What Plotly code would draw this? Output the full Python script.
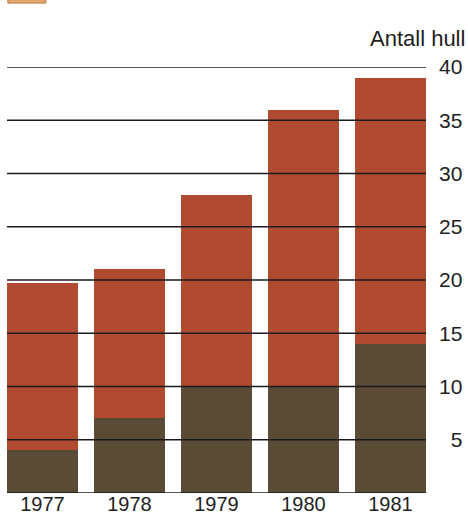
import plotly.graph_objects as go

years = ["1977", "1978", "1979", "1980", "1981"]
totals = [19.7, 21, 28, 36, 39]
lower = [4, 7, 10, 10, 14]
upper = [t - l for t, l in zip(totals, lower)]
ytick_vals = [5, 10, 15, 20, 25, 30, 35, 40]
ytick_text = ["\u20075", "10", "15", "20", "25", "30", "35", "40"]

x = list(range(len(years)))
DARK = "#5a4b36"
RED = "#b04b31"
FONT = "Liberation Sans, Arial, sans-serif"

fig = go.Figure()
fig.add_bar(x=x, y=lower, marker=dict(color=DARK, line=dict(width=0)), width=0.816)
fig.add_bar(x=x, y=upper, marker=dict(color=RED, line=dict(width=0)), width=0.816)

shapes = []
for v in [0] + ytick_vals:
    shapes.append(dict(type="line", xref="paper", yref="y", x0=0, x1=1, y0=v, y1=v,
                       line=dict(color="#1a1a1a", width=1.6), layer="above"))
# partially visible legend swatch at top
shapes.append(dict(type="rect", xref="paper", yref="paper", x0=0.002, x1=0.093,
                   y0=1.150, y1=1.162, fillcolor="#e2a66c", line=dict(color="#b5804d", width=1)))

fig.update_layout(
    width=468, height=516,
    barmode="stack", showlegend=False,
    plot_bgcolor="white", paper_bgcolor="white",
    margin=dict(l=7, r=42, t=67, b=23, autoexpand=False),
    font=dict(family=FONT, size=21, color="#1e1e1e"),
    xaxis=dict(range=[-0.408, 4.408], tickvals=x, ticktext=years, showgrid=False,
               zeroline=False, showline=False, ticks="", tickfont=dict(size=20),
               automargin=False, ticklabelstandoff=-3),
    yaxis=dict(range=[0, 40], side="right", tickvals=ytick_vals, ticktext=ytick_text,
               showgrid=False, zeroline=False, showline=False, ticks="",
               ticklabelstandoff=12, tickfont=dict(size=21), automargin=False),
    shapes=shapes,
    annotations=[dict(text="Antall hull", xref="paper", yref="paper", x=1.098, y=1.066,
                      xanchor="right", yanchor="middle", showarrow=False,
                      font=dict(size=22, color="#1e1e1e", family=FONT))],
)

fig.write_html("out.html", config={"displayModeBar": False},
               post_script="document.body.style.margin='0';document.body.style.overflow='hidden';")
